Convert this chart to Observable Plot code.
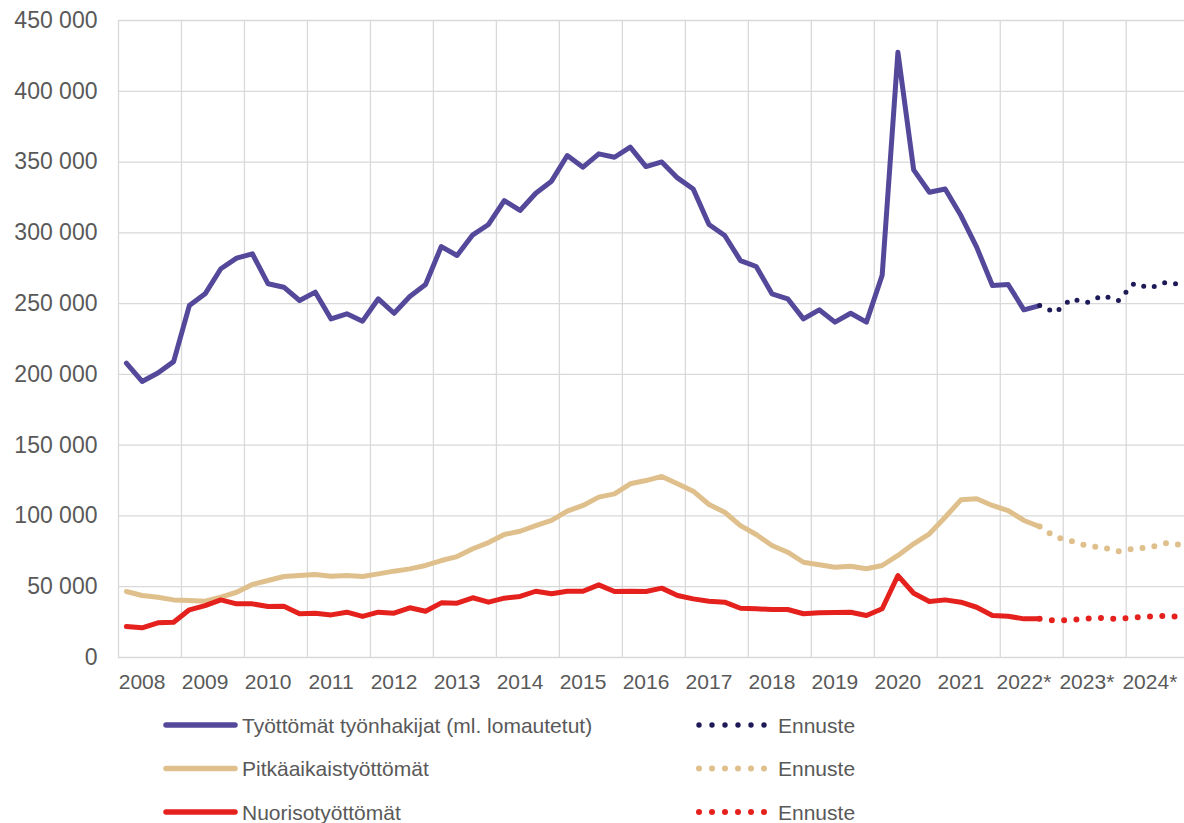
<!DOCTYPE html>
<html>
<head>
<meta charset="utf-8">
<script src="https://cdn.jsdelivr.net/npm/d3@7"></script>
<script src="https://cdn.jsdelivr.net/npm/@observablehq/plot@0.6"></script>
<style>
html,body{margin:0;padding:0;background:#fff;overflow:hidden;}
#wrap{position:relative;width:1184px;height:823px;font-family:"Liberation Sans",Arial,sans-serif;color:#595959;}
#chart svg{display:block;}
#legend{position:absolute;left:0;top:700px;}
</style>
</head>
<body>
<div id="wrap"><div id="chart"></div><svg id="legend" width="1184" height="123"></svg></div>
<script>
// ---- data (quarterly, 2008 Q1 .. 2022 Q3 actual; 2022 Q4 .. 2024 Q4 forecast) ----
const yearLabels = ["2008","2009","2010","2011","2012","2013","2014","2015","2016","2017","2018","2019","2020","2021","2022*","2023*","2024*"];
const yTicks = [0,50000,100000,150000,200000,250000,300000,350000,400000,450000];

const tyottomat = [208000,195000,201000,209000,248600,256900,274600,282100,285200,264000,261600,252200,258100,239200,242800,237600,253400,243200,255000,263500,290300,284000,298600,305900,322800,315800,328000,336500,354600,346400,355800,353400,360500,346800,350100,338800,331000,305900,298100,280400,276200,256900,253400,239200,245600,236900,243200,236900,270000,427600,344500,328700,331000,312200,289900,262800,263500,245600,248600];
const tyottomatEnnuste = [243700,253300,250800,255700,252200,264200,261100,264900,263500];

const pitkaaikais = [46600,43800,42600,40700,40300,39800,42600,46100,51600,54400,57200,57900,58600,57400,57900,57200,59100,61000,62600,65000,68500,71300,76800,81200,86900,89200,93200,96800,103400,107400,113300,115600,122700,125000,127900,122700,117500,108100,102600,93200,86900,79100,74400,67300,65500,63800,64500,62700,65000,72100,80300,87400,99100,111400,112100,107400,103800,96800,92500];
const pitkaaikaisEnnuste = [85100,82200,78900,77700,75100,76900,77800,80700,79600];

const nuoriso = [21900,21000,24500,24900,33700,36700,40700,37900,37900,36000,36200,30900,31300,30100,32000,29000,32000,31300,35100,32700,38600,38400,42200,39100,41900,43100,46800,45000,46800,46800,51300,46600,46800,46600,49000,43800,41400,39800,39100,34800,34400,33900,33900,30900,31600,31800,32000,29700,34400,57900,45400,39600,40700,39100,35500,29700,29200,27300,27300];
const nuorisoEnnuste = [26100,26500,27500,28000,27200,28300,29000,29500,28600];

const seriesNames = ["Työttömät työnhakijat (ml. lomautetut)","Pitkäaikaistyöttömät","Nuorisotyöttömät"];
const forecastName = "Ennuste";
const colors = ["#54489A","#DFC08C","#E4211C"];
const forecastColors = ["#1E1A57","#DFC08C","#E4211C"];

// ---- build tables ----
const actualRows = vals => vals.map((v,i)=>({q:i+0.5, v}));
const forecastRows = (vals, act) => [{q:act.length-0.5, v:act[act.length-1]}, ...vals.map((v,k)=>({q:act.length+k+0.5, v}))];

const yearStarts = d3.range(0, 65, 4);
const labelPos = yearLabels.map((_,k)=>4*k+1.5);
const fmt = v => v === 0 ? "0" : d3.format(",")(v).replace(/,/g," ");

const font = '"Liberation Sans", Arial, sans-serif';

const chart = Plot.plot({
  width:1184, height:700,
  marginTop:20, marginBottom:43, marginLeft:118, marginRight:0,
  x:{domain:[0,67.7], axis:null, label:null},
  y:{domain:[0,450000], axis:null, label:null},
  style:{fontFamily:font, color:"#595959", background:"white", overflow:"visible"},
  marks:[
    Plot.ruleY(yTicks,{stroke:"#D9D9D9", strokeWidth:1.3}),
    Plot.ruleX(yearStarts,{stroke:"#D9D9D9", strokeWidth:1.3}),
    Plot.axisY({ticks:yTicks, tickSize:0, tickPadding:21, fontSize:23, tickFormat:fmt, label:null}),
    Plot.axisX({ticks:labelPos, tickSize:0, tickPadding:17, fontSize:21, tickFormat:d=>yearLabels[Math.round((d-1.5)/4)], label:null}),
    Plot.line(actualRows(pitkaaikais),{x:"q", y:"v", stroke:colors[1], strokeWidth:5, strokeLinejoin:"round", strokeLinecap:"round"}),
    Plot.line(forecastRows(pitkaaikaisEnnuste,pitkaaikais),{x:"q", y:"v", stroke:forecastColors[1], strokeWidth:6, strokeDasharray:"0 12", strokeLinecap:"round"}),
    Plot.line(actualRows(nuoriso),{x:"q", y:"v", stroke:colors[2], strokeWidth:5, strokeLinejoin:"round", strokeLinecap:"round"}),
    Plot.line(forecastRows(nuorisoEnnuste,nuoriso),{x:"q", y:"v", stroke:forecastColors[2], strokeWidth:6, strokeDasharray:"0 12.3", strokeLinecap:"round"}),
    Plot.line(actualRows(tyottomat),{x:"q", y:"v", stroke:colors[0], strokeWidth:5, strokeLinejoin:"round", strokeLinecap:"round"}),
    Plot.line(forecastRows(tyottomatEnnuste,tyottomat),{x:"q", y:"v", stroke:forecastColors[0], strokeWidth:5, strokeDasharray:"0 11", strokeLinecap:"round"})
  ]
});
document.getElementById("chart").appendChild(chart);

// ---- legend ----
const lg = d3.select("#legend");
const rowsY = [25, 68.5, 112];
seriesNames.forEach((name,k)=>{
  const y = rowsY[k];
  lg.append("line").attr("x1",166).attr("x2",235).attr("y1",y).attr("y2",y)
    .attr("stroke",colors[k]).attr("stroke-width",5.5).attr("stroke-linecap","round");
  lg.append("text").attr("x",242).attr("y",y+7.5).text(name)
    .attr("font-family",font).attr("font-size",21).attr("fill","#595959");
  d3.range(6).forEach(j=>{
    lg.append("circle").attr("cx",699+j*13).attr("cy",y).attr("r",k===0?2.7:3).attr("fill",forecastColors[k]);
  });
  lg.append("text").attr("x",778).attr("y",y+7.5).text(forecastName)
    .attr("font-family",font).attr("font-size",21).attr("fill","#595959");
});
</script>
</body>
</html>
